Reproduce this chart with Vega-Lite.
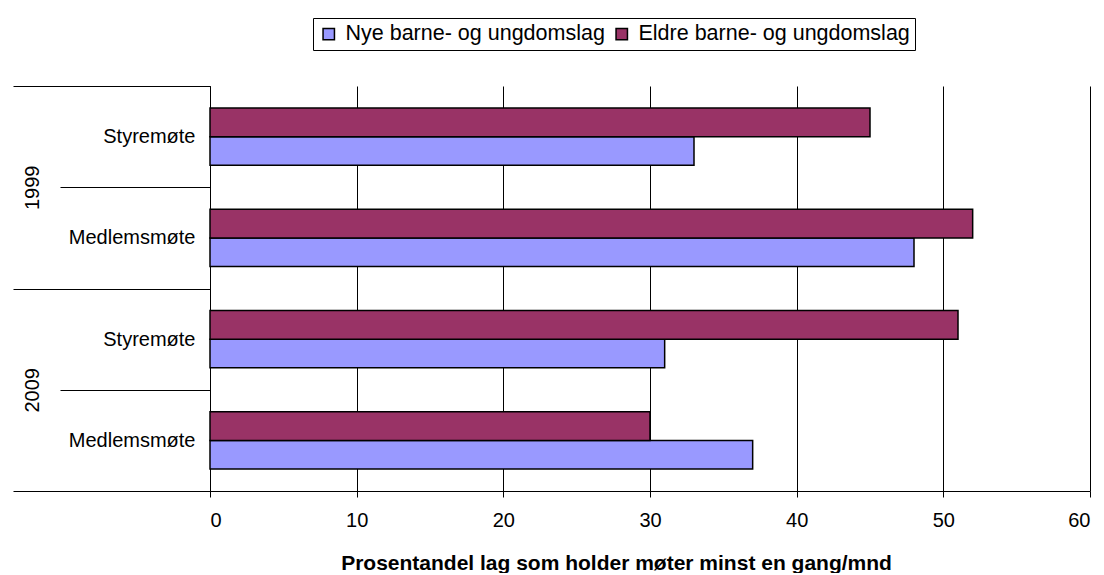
{
  "$schema": "https://vega.github.io/schema/vega-lite/v6.json",
  "width": 880,
  "height": 405,
  "padding": {"left": 12, "top": 17, "right": 0, "bottom": 0},
  "config": {
    "view": {"stroke": null},
    "font": "Liberation Sans",
    "axis": {"labelFont": "Liberation Sans", "titleFont": "Liberation Sans", "labelColor": "#000", "titleColor": "#000"}
  },
  "data": {
    "values": [
      {"key": "1999 Styremøte", "year": "1999", "cat": "Styremøte", "series": "Nye barne- og ungdomslag", "value": 33},
      {"key": "1999 Styremøte", "year": "1999", "cat": "Styremøte", "series": "Eldre barne- og ungdomslag", "value": 45},
      {"key": "1999 Medlemsmøte", "year": "1999", "cat": "Medlemsmøte", "series": "Nye barne- og ungdomslag", "value": 48},
      {"key": "1999 Medlemsmøte", "year": "1999", "cat": "Medlemsmøte", "series": "Eldre barne- og ungdomslag", "value": 52},
      {"key": "2009 Styremøte", "year": "2009", "cat": "Styremøte", "series": "Nye barne- og ungdomslag", "value": 31},
      {"key": "2009 Styremøte", "year": "2009", "cat": "Styremøte", "series": "Eldre barne- og ungdomslag", "value": 51},
      {"key": "2009 Medlemsmøte", "year": "2009", "cat": "Medlemsmøte", "series": "Nye barne- og ungdomslag", "value": 37},
      {"key": "2009 Medlemsmøte", "year": "2009", "cat": "Medlemsmøte", "series": "Eldre barne- og ungdomslag", "value": 30}
    ]
  },
  "layer": [
    {
      "mark": {"type": "bar", "stroke": "#000", "strokeWidth": 1.5, "opacity": 1},
      "encoding": {
        "y": {
          "field": "key", "type": "nominal",
          "sort": ["1999 Styremøte", "1999 Medlemsmøte", "2009 Styremøte", "2009 Medlemsmøte"],
          "scale": {"paddingInner": 0, "paddingOuter": 0},
          "axis": {
            "orient": "left", "title": null,
            "labelExpr": "slice(datum.label, 5)",
            "labelFontSize": 20, "labelPadding": -135,
            "tickBand": "extent", "tickSize": 150, "tickColor": "#000", "tickWidth": 1,
            "domain": true, "domainColor": "#000", "domainWidth": 1, "grid": false
          }
        },
        "yOffset": {
          "field": "series", "type": "nominal",
          "sort": ["Eldre barne- og ungdomslag", "Nye barne- og ungdomslag"],
          "scale": {"paddingInner": 0, "paddingOuter": 0.77}
        },
        "x": {
          "field": "value", "type": "quantitative",
          "scale": {"domain": [0, 60], "nice": false},
          "axis": {
            "values": [0, 10, 20, 30, 40, 50, 60],
            "title": "Prosentandel lag som holder møter minst en gang/mnd",
            "titleFontSize": 21, "titleFontWeight": "bold", "titlePadding": 22, "titleX": 406,
            "labelFontSize": 20, "labelPadding": 13,
            "grid": true, "gridColor": "#000", "gridWidth": 1, "gridOpacity": 1,
            "tickColor": "#000", "tickSize": 6, "domainColor": "#000"
          }
        },
        "color": {
          "field": "series", "type": "nominal",
          "scale": {"domain": ["Nye barne- og ungdomslag", "Eldre barne- og ungdomslag"], "range": ["#9999FF", "#993366"]},
          "legend": {
            "orient": "none", "legendX": 103, "legendY": -68, "title": null,
            "direction": "horizontal", "strokeColor": "#000", "padding": 5,
            "symbolType": "square", "symbolSize": 130, "symbolStrokeColor": "#000", "symbolStrokeWidth": 1.5, "symbolOpacity": 1,
            "labelFontSize": 21.5, "labelFont": "Liberation Sans", "labelColor": "#000", "labelLimit": 500, "columnPadding": 6, "labelOffset": 6
          }
        }
      }
    },
    {
      "mark": {"type": "point", "opacity": 0},
      "encoding": {
        "x": {"field": "value", "type": "quantitative"},
        "y": {
          "field": "year", "type": "nominal",
          "sort": ["1999", "2009"],
          "scale": {"paddingInner": 0, "paddingOuter": 0},
          "axis": {
            "orient": "left", "title": null, "domain": false, "grid": false,
            "labelAngle": 270, "labelAlign": "center", "labelBaseline": "alphabetic",
            "labelFontSize": 20, "labelPadding": -25,
            "tickBand": "extent", "tickSize": 197, "tickColor": "#000", "tickWidth": 1
          }
        }
      }
    }
  ],
  "resolve": {"scale": {"y": "independent"}, "axis": {"y": "independent"}}
}
